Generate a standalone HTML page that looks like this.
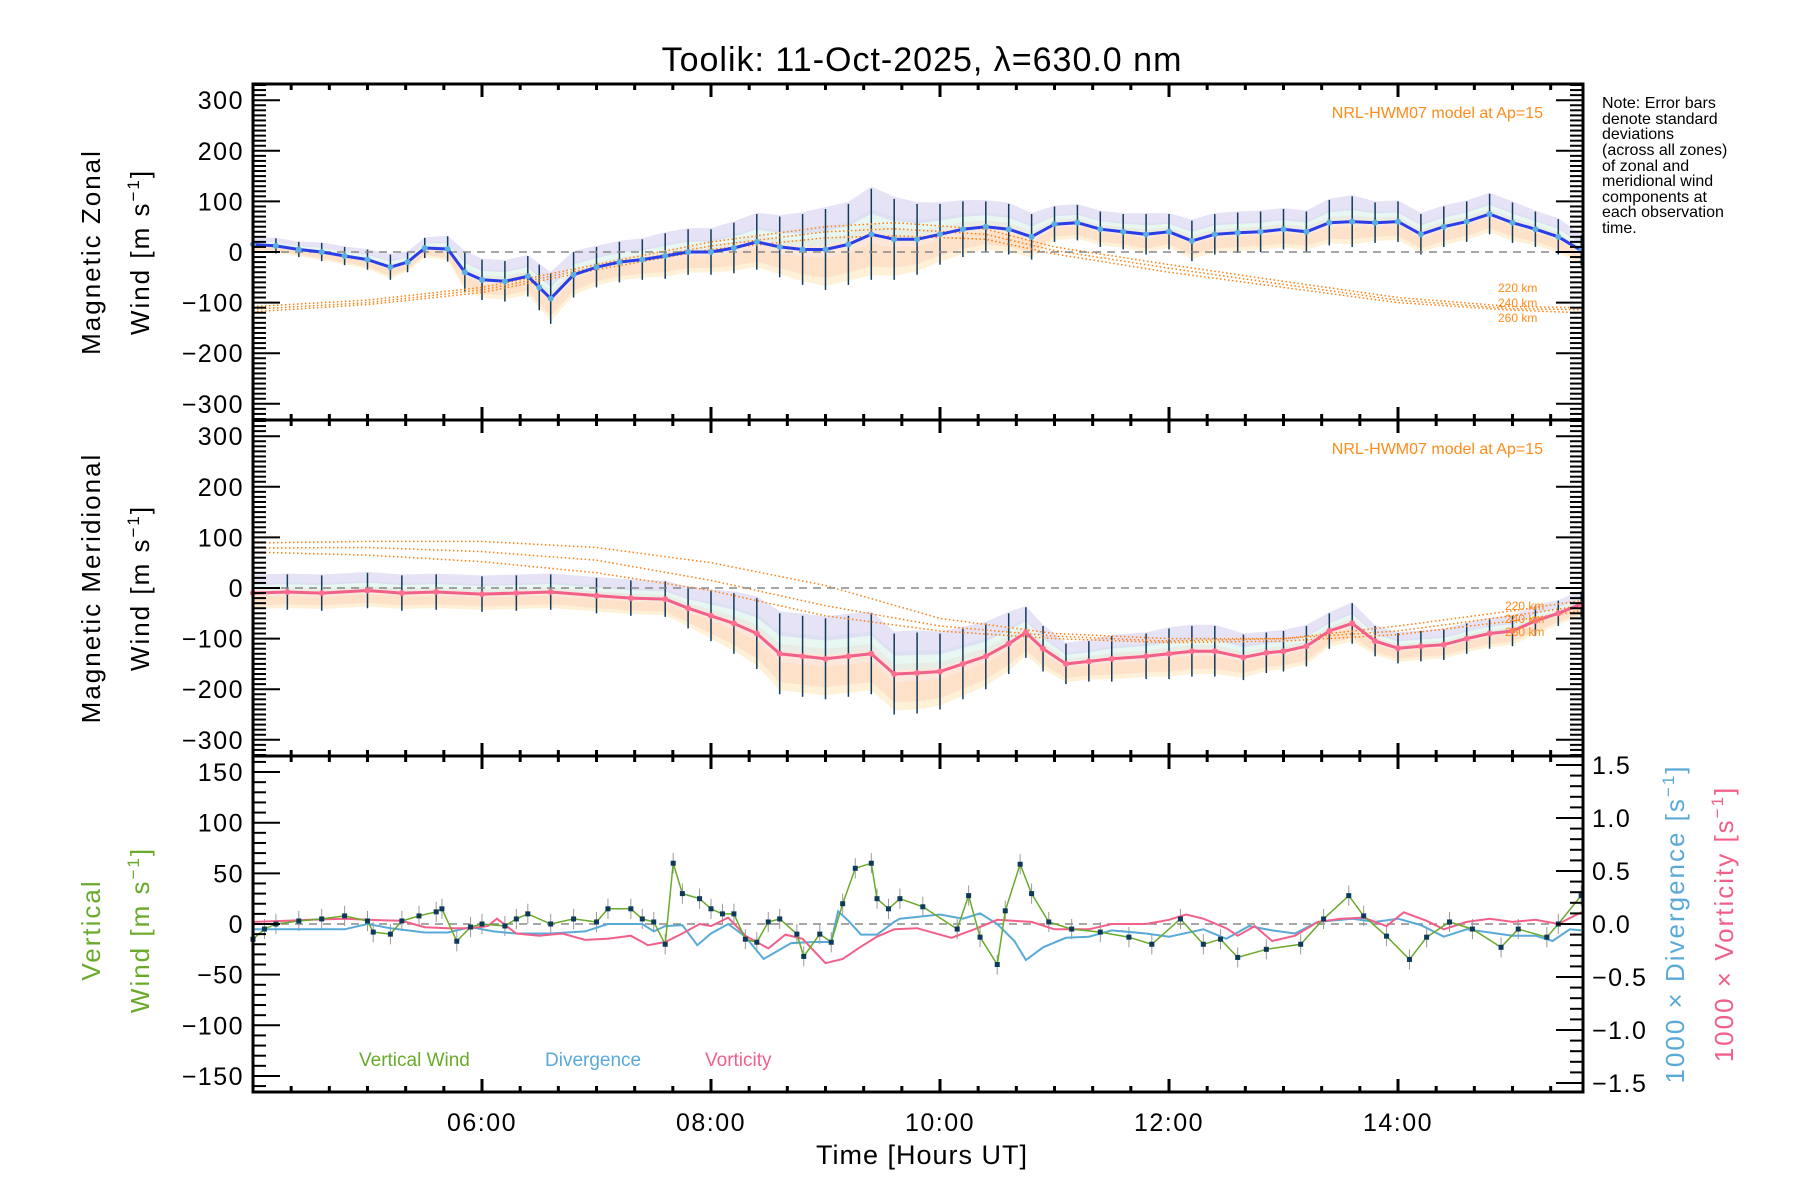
<!DOCTYPE html>
<html><head><meta charset="utf-8"><style>
html,body{margin:0;padding:0;background:#fff;}
svg{display:block;font-family:"Liberation Sans",sans-serif;}
</style></head><body>
<svg id="chart" width="1800" height="1200" viewBox="0 0 1800 1200" xmlns="http://www.w3.org/2000/svg">
<rect width="1800" height="1200" fill="#fff"/>
<text x="922" y="71" font-size="34" text-anchor="middle" letter-spacing="1">Toolik: 11-Oct-2025, λ=630.0 nm</text>
<g id="p1"></g>
<g id="p2"></g>
<g id="p3"></g>
<g id="axes"></g>
<g font-size="26" text-anchor="middle">
<text transform="translate(100,252) rotate(-90)" letter-spacing="2">Magnetic Zonal</text>
<text transform="translate(149,252) rotate(-90)" letter-spacing="2">Wind [m s<tspan font-size="17" dy="-10">−1</tspan><tspan dy="10">]</tspan></text>
</g>
<g font-size="26" text-anchor="middle">
<text transform="translate(100,588) rotate(-90)" letter-spacing="2">Magnetic Meridional</text>
<text transform="translate(149,588) rotate(-90)" letter-spacing="2">Wind [m s<tspan font-size="17" dy="-10">−1</tspan><tspan dy="10">]</tspan></text>
</g>
<g font-size="26" text-anchor="middle" fill="#6aaa2a">
<text transform="translate(100,930) rotate(-90)" letter-spacing="2">Vertical</text>
<text transform="translate(149,930) rotate(-90)" letter-spacing="2">Wind [m s<tspan font-size="17" dy="-10">−1</tspan><tspan dy="10">]</tspan></text>
</g>
<text transform="translate(1684,924) rotate(-90)" font-size="26" text-anchor="middle" fill="#5aaad8" letter-spacing="2">1000 × Divergence [s<tspan font-size="17" dy="-10">−1</tspan><tspan dy="10">]</tspan></text>
<text transform="translate(1733,924) rotate(-90)" font-size="26" text-anchor="middle" fill="#f2608a" letter-spacing="2">1000 × Vorticity [s<tspan font-size="17" dy="-10">−1</tspan><tspan dy="10">]</tspan></text>
<text x="922" y="1164" font-size="27" text-anchor="middle" letter-spacing="1">Time [Hours UT]</text>
<g font-size="16" fill="#000">
<text x="1602" y="108">Note: Error bars</text>
<text x="1602" y="124">denote standard</text>
<text x="1602" y="139">deviations</text>
<text x="1602" y="155">(across all zones)</text>
<text x="1602" y="171">of zonal and</text>
<text x="1602" y="186">meridional wind</text>
<text x="1602" y="202">components at</text>
<text x="1602" y="217">each observation</text>
<text x="1602" y="233">time.</text>
</g>
<text x="1543" y="118" font-size="16" fill="#ff8c1a" text-anchor="end">NRL-HWM07 model at Ap=15</text>
<text x="1543" y="454" font-size="16" fill="#ff8c1a" text-anchor="end">NRL-HWM07 model at Ap=15</text>
<g font-size="12" fill="#ff8c1a">
<text x="1498" y="292">220 km</text><text x="1498" y="307">240 km</text><text x="1498" y="322">260 km</text>
</g>
<g font-size="12" fill="#ff8c1a">
<text x="1505" y="610">220 km</text><text x="1505" y="623">240 km</text><text x="1505" y="636">260 km</text>
</g>
<g font-size="19">
<text x="359" y="1066" fill="#6aaa2a">Vertical Wind</text>
<text x="545" y="1066" fill="#5aaad8">Divergence</text>
<text x="705" y="1066" fill="#f2608a">Vorticity</text>
</g>
</svg>
<script>
// ---- data ----
const zonalTimes=[4.0,4.2,4.4,4.6,4.8,5.0,5.2,5.35,5.5,5.7,5.85,6.0,6.2,6.4,6.5,6.6,6.8,7.0,7.2,7.4,7.6,7.8,8.0,8.2,8.4,8.6,8.8,9.0,9.2,9.4,9.6,9.8,10.0,10.2,10.4,10.6,10.8,11.0,11.2,11.4,11.6,11.8,12.0,12.2,12.4,12.6,12.8,13.0,13.2,13.4,13.6,13.8,14.0,14.2,14.4,14.6,14.8,15.0,15.2,15.4,15.6];
const zonalWind=[15,12,5,0,-8,-15,-30,-20,8,6,-40,-55,-58,-48,-70,-92,-45,-30,-20,-15,-8,0,0,8,20,10,5,5,15,35,25,25,35,45,50,45,30,55,58,45,40,35,40,22,35,38,40,45,40,58,60,58,60,35,50,60,75,58,45,30,3];
const zonalSd=[15,15,15,18,18,20,25,20,20,25,40,40,40,40,45,50,45,40,40,40,45,45,45,50,55,60,70,80,80,90,80,70,60,55,50,50,45,35,35,35,35,40,35,40,40,40,40,40,40,45,50,40,40,40,40,40,40,40,35,35,30];
const merTimes=[4.0,4.3,4.6,5.0,5.3,5.6,6.0,6.3,6.6,7.0,7.3,7.6,7.8,8.0,8.2,8.4,8.6,8.8,9.0,9.2,9.4,9.6,9.8,10.0,10.2,10.4,10.6,10.75,10.9,11.1,11.3,11.5,11.8,12.0,12.2,12.4,12.65,12.85,13.0,13.2,13.4,13.6,13.8,14.0,14.2,14.4,14.6,14.8,15.0,15.2,15.4,15.6];
const merWind=[-10,-8,-10,-5,-10,-8,-12,-10,-8,-15,-20,-22,-40,-55,-70,-90,-130,-135,-140,-135,-130,-170,-168,-165,-150,-135,-110,-88,-120,-150,-145,-140,-135,-130,-125,-125,-137,-128,-125,-115,-85,-70,-105,-119,-115,-112,-100,-90,-85,-65,-50,-32];
const merSd=[35,35,35,35,35,35,35,35,35,35,35,35,40,50,60,70,80,80,80,80,80,80,80,75,70,65,60,50,45,40,40,45,45,50,50,50,45,40,40,40,35,40,30,30,30,30,30,30,30,30,25,25];
const zModelTimes=[4,5,6,7,8,9,9.6,10.4,11,12,13,14,15,15.6];
const zModel220=[-108,-95,-70,-25,20,50,58,45,10,-25,-58,-90,-108,-110];
const zModel240=[-113,-100,-75,-30,12,40,46,35,3,-32,-64,-95,-112,-114];
const zModel260=[-118,-104,-80,-35,5,28,32,25,-4,-40,-70,-100,-115,-120];
const mModelTimes=[4,5,6,7,8,9,10,11,12,13,14,15,15.6];
const mModel220=[89,92,92,80,50,5,-60,-90,-100,-100,-75,-45,-25];
const mModel240=[79,80,72,55,15,-35,-75,-95,-105,-100,-85,-55,-35];
const mModel260=[71,65,52,30,-5,-55,-85,-100,-108,-105,-92,-65,-45];
const vertTimes=[4.0,4.1,4.2,4.4,4.6,4.8,5.0,5.05,5.2,5.3,5.45,5.6,5.65,5.78,5.9,6.0,6.2,6.3,6.4,6.6,6.8,7.0,7.1,7.3,7.4,7.5,7.6,7.67,7.75,7.9,8.0,8.1,8.2,8.3,8.4,8.5,8.6,8.75,8.81,8.95,9.05,9.15,9.26,9.4,9.45,9.55,9.65,9.85,10.15,10.25,10.35,10.5,10.57,10.7,10.8,10.95,11.15,11.4,11.65,11.85,12.1,12.3,12.45,12.6,12.85,13.15,13.35,13.57,13.7,13.9,14.1,14.25,14.45,14.65,14.9,15.05,15.3,15.4,15.6];
const vertWind=[-15,-5,0,3,5,8,3,-8,-10,3,8,12,15,-17,-3,0,-2,5,10,0,5,2,15,15,5,2,-20,60,30,25,15,10,10,-15,-18,2,5,-10,-32,-10,-18,20,55,60,25,15,25,17,-5,28,-13,-40,13,59,30,2,-5,-8,-13,-20,5,-20,-15,-33,-25,-20,5,28,8,-12,-35,-13,2,-5,-23,-5,-13,0,28];
const divTimes=[4.0,4.5,4.8,5.0,5.2,5.5,5.7,5.9,6.1,6.3,6.6,6.9,7.1,7.4,7.5,7.6,7.75,7.88,8.0,8.15,8.3,8.46,8.7,8.9,9.05,9.11,9.2,9.31,9.45,9.6,9.65,10.0,10.2,10.35,10.5,10.65,10.75,10.9,11.1,11.3,11.5,11.8,12.0,12.3,12.5,12.7,12.9,13.1,13.3,13.6,13.8,14.0,14.2,14.4,14.6,14.8,15.0,15.2,15.35,15.5,15.6];
const divergence=[-0.05,-0.05,-0.05,0.0,-0.04,-0.08,-0.08,-0.03,-0.07,-0.09,-0.09,-0.07,0.0,0.0,-0.07,-0.02,-0.01,-0.2,-0.09,0.0,-0.12,-0.33,-0.18,-0.17,-0.17,0.12,0.03,-0.1,-0.1,0.02,0.05,0.09,0.05,0.1,0.0,-0.16,-0.34,-0.22,-0.13,-0.12,-0.06,-0.09,-0.12,-0.05,-0.14,-0.02,-0.06,-0.09,0.02,0.05,0.02,0.05,-0.01,-0.12,-0.05,-0.08,-0.11,-0.11,-0.16,-0.05,-0.06];
const vortTimes=[4.0,4.3,4.5,4.8,5.0,5.3,5.5,5.7,5.9,6.05,6.13,6.3,6.5,6.7,6.9,7.1,7.3,7.45,7.6,7.75,7.9,8.0,8.15,8.3,8.5,8.65,8.8,9.0,9.15,9.3,9.45,9.6,9.8,10.1,10.3,10.5,10.8,11.0,11.3,11.5,11.8,12.0,12.15,12.3,12.5,12.6,12.75,12.9,13.1,13.3,13.5,13.7,13.9,14.05,14.25,14.4,14.6,14.8,15.0,15.2,15.4,15.6];
const vorticity=[0.02,0.03,0.04,0.05,0.04,0.03,-0.03,-0.04,-0.04,-0.02,0.05,-0.09,-0.11,-0.09,-0.15,-0.14,-0.11,-0.2,-0.17,-0.09,0.0,-0.02,0.06,-0.11,-0.23,-0.1,-0.14,-0.37,-0.33,-0.22,-0.12,-0.05,-0.04,-0.13,-0.05,0.04,0.02,-0.05,-0.05,0.0,0.0,0.04,0.09,0.05,-0.04,-0.11,-0.02,-0.16,-0.11,0.02,0.05,0.06,-0.02,0.11,0.03,-0.05,0.02,0.05,0.02,0.04,0.0,0.11];
const yLabels12=["−300","−200","−100","0","100","200","300"];
const yLabels3L=["−150","−100","−50","0","50","100","150"];
const yLabels3R=["−1.5","−1.0","−0.5","0.0","0.5","1.0","1.5"];
const xLabels=["06:00","08:00","10:00","12:00","14:00"];

// ---- geometry ----
const NS="http://www.w3.org/2000/svg";
const X0=253,X1=1583,T0=4.0,PXH=114.5;
const xs=t=>X0+(t-T0)*PXH;
const y1=v=>252-v*0.506, y2=v=>588-v*0.506, y3=v=>924-v*1.013, y3r=v=>924-v*106;
function el(tag,attrs,parent){const e=document.createElementNS(NS,tag);for(const k in attrs)e.setAttribute(k,attrs[k]);parent.appendChild(e);return e;}
const P1=document.getElementById('p1'),P2=document.getElementById('p2'),P3=document.getElementById('p3'),AX=document.getElementById('axes');
function pts(ts,vs,fy){return ts.map((t,i)=>xs(t).toFixed(1)+','+fy(vs[i]).toFixed(1)).join(' ');}
function band(ts,vs,sd,fy,lo,hi){const up=ts.map((t,i)=>xs(t).toFixed(1)+','+fy(vs[i]+sd[i]*hi).toFixed(1));const dn=ts.map((t,i)=>xs(t).toFixed(1)+','+fy(vs[i]+sd[i]*lo).toFixed(1)).reverse();return up.concat(dn).join(' ');}

function windPanel(g,ts,vs,sd,fy,lineColor,markColor,mt,m1,m2,m3,tag){
  const b0=el('polygon',{points:band(ts,vs,sd,fy,-0.9,-0.2),fill:'#fde6b8',opacity:0.55},g);
  
  const b1=el('polygon',{points:band(ts,vs,sd,fy,-0.7,0.25),fill:'#fbd3bd',opacity:0.55},g);
  
  const b2=el('polygon',{points:band(ts,vs,sd,fy,0.1,0.55),fill:'#d8f2ea',opacity:0.6},g);
  
  const b3=el('polygon',{points:band(ts,vs,sd,fy,0.45,1.05),fill:'#d6d1f0',opacity:0.6},g);
  
  ts.forEach((t,i)=>{
    const l=el('line',{x1:xs(t),x2:xs(t),y1:fy(vs[i]-sd[i]),y2:fy(vs[i]+sd[i]),stroke:'#123a5a','stroke-width':1.5},g);
    
    
  });
  [m1,m2,m3].forEach((m,k)=>{
    const p=el('polyline',{points:pts(mt,m,fy),fill:'none',stroke:'#ff7f0e','stroke-width':1.5,'stroke-dasharray':'1.5 2.5'},g);
    
    
  });
  const z=el('line',{x1:X0,x2:X1,y1:fy(0),y2:fy(0),stroke:'#888','stroke-width':1.5,'stroke-dasharray':'8 6'},g);
  
  const ln=el('polyline',{points:pts(ts,vs,fy),fill:'none',stroke:lineColor,'stroke-width':3},g);
  
  ts.forEach((t,i)=>{
    const c=el('circle',{cx:xs(t),cy:fy(vs[i]),r:3,fill:markColor},g);
    
    
  });
}
windPanel(P1,zonalTimes,zonalWind,zonalSd,y1,'#2a3ee8','#5aaee0',zModelTimes,zModel220,zModel240,zModel260,'zonal');
windPanel(P2,merTimes,merWind,merSd,y2,'#f2608a','#ff6e90',mModelTimes,mModel220,mModel240,mModel260,'meridional');

// panel 3
{
  const z=el('line',{x1:X0,x2:X1,y1:y3(0),y2:y3(0),stroke:'#888','stroke-width':1.5,'stroke-dasharray':'8 6'},P3);
  
  vertTimes.forEach((t,i)=>{
    const l=el('line',{x1:xs(t),x2:xs(t),y1:y3(vertWind[i]-10),y2:y3(vertWind[i]+10),stroke:'#999','stroke-width':1},P3);
    
    
  });
  const d=el('polyline',{points:pts(divTimes,divergence,y3r),fill:'none',stroke:'#5aaad8','stroke-width':2},P3);
  
  const v=el('polyline',{points:pts(vortTimes,vorticity,y3r),fill:'none',stroke:'#f2608a','stroke-width':2},P3);
  
  const w=el('polyline',{points:pts(vertTimes,vertWind,y3),fill:'none',stroke:'#6aaa2a','stroke-width':1.5},P3);
  
  vertTimes.forEach((t,i)=>{
    const r=el('rect',{x:xs(t)-2.5,y:y3(vertWind[i])-2.5,width:5,height:5,fill:'#0d3a5a'},P3);
    
    
  });
}

// ---- axes ----
const K='#000';
function tick(x1,y1_,x2,y2_,w){const t=el('line',{x1:x1,y1:y1_,x2:x2,y2:y2_,stroke:K,'stroke-width':w},AX);}
function label(x,y,s,anchor,name){const t=el('text',{x:x,y:y,'font-size':25,'text-anchor':anchor,'letter-spacing':1.5},AX);t.textContent=s;}
[[84,420],[420,756],[756,1092]].forEach((p,k)=>{
  const r=el('rect',{x:X0,y:p[0],width:X1-X0,height:p[1]-p[0],fill:'none',stroke:K,'stroke-width':3},AX);
  
});
[y1,y2].forEach((fy,pi)=>{
  for(let v=-330;v<=330;v+=10){
    const maj=v%100===0,len=maj?27:13,y=fy(v);
    tick(X0,y,X0+len,y,2);tick(X1,y,X1-len,y,2);
  }
  yLabels12.forEach((s,i)=>label(244,fy(-300+100*i)+9,s,'end','y-tick-label'));
});
for(let v=-160;v<=160;v+=10){const maj=v%50===0,len=maj?27:13;tick(X0,y3(v),X0+len,y3(v),2);}
yLabels3L.forEach((s,i)=>label(244,y3(-150+50*i)+9,s,'end','left-tick-label'));
for(let k=-15;k<=15;k++){const v=k/10,maj=k%5===0,len=maj?27:13;tick(X1,y3r(v),X1-len,y3r(v),2);}
yLabels3R.forEach((s,i)=>label(1592,y3r(-1.5+0.5*i)+9,s,'start','right-tick-label'));
for(let k=0;k*20<=(15.6-4)*60;k++){
  const t=4+k/3,x=xs(t),maj=Math.abs(t-Math.round(t))<1e-6&&Math.round(t)%2===0,len=maj?13:6;
  tick(x,84,x,84+len,3);
  [420,756].forEach(y=>tick(x,y-len,x,y+len,3));
  tick(x,1092,x,1092-len,3);
}
xLabels.forEach((s,i)=>label(xs(6+2*i),1131,s,'middle','x-tick-label'));
</script>
</body></html>
